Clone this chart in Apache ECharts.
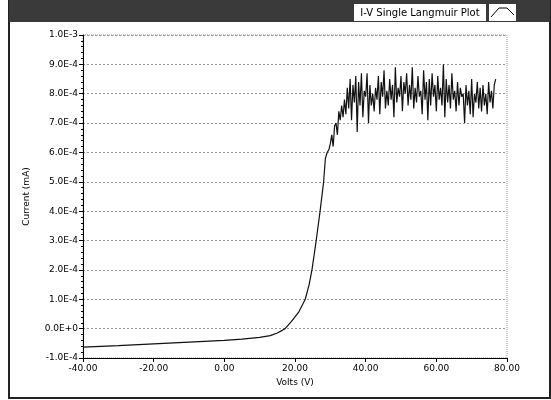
<!DOCTYPE html>
<html>
<head>
<meta charset="utf-8">
<script src="https://cdn.jsdelivr.net/npm/echarts@6/dist/echarts.min.js"></script>
<style>
  html, body { margin: 0; padding: 0; background: #fff; }
  #chart { width: 551px; height: 400px; }
</style>
</head>
<body>
<div id="chart"></div>
<script>
// smooth part of the curve: [volts, current in 1E-4 mA]
var smoothPoints = [
    [-40, -0.63], [-30, -0.58], [-20, -0.52], [-10, -0.46], [0, -0.40],
    [5, -0.36], [10, -0.30], [13, -0.24], [15, -0.15], [16.5, -0.05],
    [17.2, 0.0], [19, 0.25], [21, 0.55], [22.9, 1.0], [24, 1.5],
    [24.8, 2.0], [26, 3.0], [27.1, 4.0], [28.1, 5.0], [28.6, 5.8], [29.1, 6.0], [29.6, 6.1]
];
// noisy saturation part, starting at 30 V, one value every 0.4 V (1E-4 mA)
var noiseStart = 30;
var noiseStep = 0.4;
var noiseValues = [
    6.3, 6.6, 6.2, 6.9, 7.0, 6.6, 7.4, 7.1, 7.6, 7.2,
    7.8, 7.3, 8.2, 7.5, 8.5, 7.1, 8.3, 7.7, 8.6, 6.7,
    8.4, 7.6, 8.7, 7.2, 8.1, 7.9, 8.7, 7.0, 8.3, 7.6,
    8.0, 7.4, 8.2, 7.8, 8.6, 7.3, 8.4, 7.9, 8.8, 7.5,
    8.1, 7.6, 8.5, 7.8, 8.3, 7.2, 8.9, 7.7, 8.2, 7.9,
    8.6, 7.4, 8.4, 8.0, 8.7, 7.6, 8.3, 7.8, 8.9, 7.5,
    8.2, 7.7, 8.6, 7.9, 8.1, 7.3, 8.8, 7.8, 8.4, 7.1,
    8.5, 7.6, 8.7, 7.9, 8.3, 7.4, 8.6, 7.8, 8.2, 7.6,
    9.0, 7.2, 8.5, 7.7, 8.3, 7.5, 8.7, 7.8, 8.1, 7.4,
    8.4, 7.6, 8.2, 7.9, 8.0, 7.0, 8.3, 7.6, 8.1, 7.3,
    8.5, 7.2, 8.0, 7.7, 8.4, 7.5, 8.2, 7.4, 8.3, 7.6,
    8.0, 7.3, 8.4, 7.7, 8.1, 7.5, 8.3, 8.5
];

var data = smoothPoints.map(function (p) { return [p[0], p[1] * 1e-4]; });
for (var i = 0; i < noiseValues.length; i++) {
    data.push([noiseStart + noiseStep * i, noiseValues[i] * 1e-4]);
}

var font = 'DejaVu Sans';
var chart = echarts.init(document.getElementById('chart'));
chart.setOption({
    animation: false,
    graphic: [
        { type: 'rect', shape: { x: 9, y: 0, width: 541, height: 398 },
          style: { fill: '#fff', stroke: '#222', lineWidth: 2 }, z: -10 },
        { type: 'rect', shape: { x: 9, y: 0, width: 541, height: 22 },
          style: { fill: '#3a3a3a' }, z: -9 },
        { type: 'rect', shape: { x: 354, y: 4, width: 132, height: 17 },
          style: { fill: '#fff' } },
        { type: 'text', x: 420, y: 13,
          style: { text: 'I-V Single Langmuir Plot', fill: '#000', font: '10px ' + font,
                   textAlign: 'center', textVerticalAlign: 'middle' } },
        { type: 'rect', shape: { x: 489, y: 4, width: 27, height: 17 },
          style: { fill: '#fff' } },
        { type: 'polyline', shape: { points: [[491, 17], [499, 8], [507, 8], [514, 15]] },
          style: { stroke: '#000', fill: null, lineWidth: 1 } }
    ],
    grid: { left: 83, right: 44, top: 35, bottom: 42,
            show: true, borderColor: '#999', borderWidth: 1, borderType: 'dotted' },
    xAxis: {
        type: 'value', min: -40, max: 80, interval: 20,
        name: 'Volts (V)', nameLocation: 'middle', nameGap: 20,
        nameTextStyle: { fontFamily: font, fontSize: 9, color: '#000' },
        axisLine: { onZero: false, lineStyle: { color: '#000' } },
        axisTick: { lineStyle: { color: '#000' }, length: 4 },
        axisLabel: { fontFamily: font, fontSize: 9, color: '#000', margin: 6,
                     formatter: function (v) { return v.toFixed(2); } },
        splitLine: { show: false }
    },
    yAxis: {
        type: 'value', min: -1e-4, max: 1e-3, interval: 1e-4,
        name: 'Current (mA)', nameLocation: 'middle', nameGap: 52,
        nameTextStyle: { fontFamily: font, fontSize: 9, color: '#000' },
        axisLine: { show: true, onZero: false, lineStyle: { color: '#000' } },
        axisTick: { show: true, lineStyle: { color: '#000' }, length: 4 },
        minorTick: { show: true, splitNumber: 5, length: 2, lineStyle: { color: '#000' } },
        axisLabel: { fontFamily: font, fontSize: 9, color: '#000', margin: 5,
                     formatter: function (v) { return v.toExponential(1).toUpperCase(); } },
        splitLine: { show: true, lineStyle: { color: '#999', type: [2, 2] } }
    },
    series: [{
        type: 'line',
        data: data,
        showSymbol: false,
        lineStyle: { color: '#111', width: 1.2 }
    }]
});
</script>
</body>
</html>
